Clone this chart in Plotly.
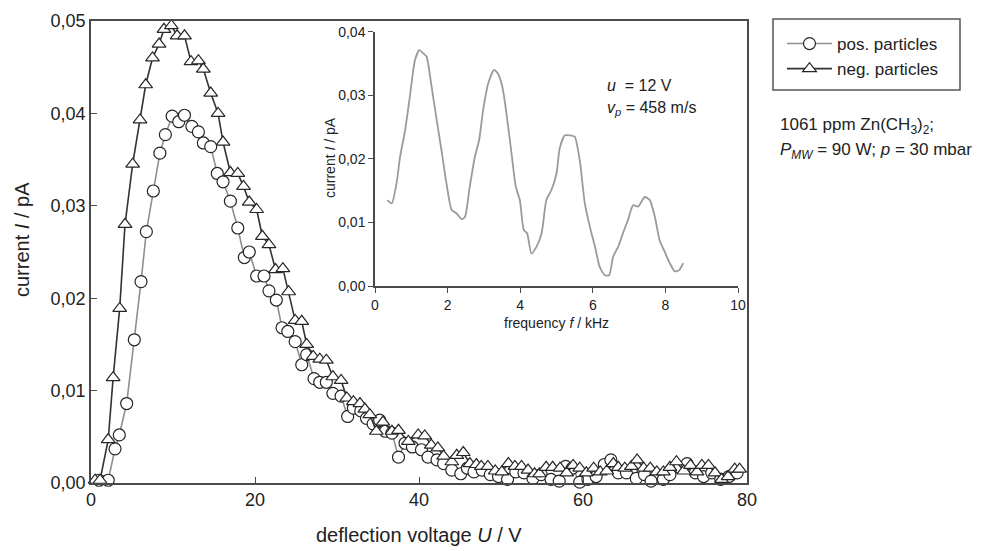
import plotly.graph_objects as go

# ---------------- data ----------------
pos_U = [0.98, 2.1, 2.93, 3.45, 4.35, 5.28, 6.1, 6.75, 7.6, 8.4, 9.07, 9.9, 10.7, 11.4, 12.3, 13.1,
         13.7, 14.6, 15.4, 16.1, 17.0, 17.9, 18.7, 19.3, 20.2, 21.1, 21.7, 22.6, 23.3, 24.0, 24.9,
         25.7, 26.3, 27.2, 27.9, 28.7, 29.5, 30.5, 31.3, 32.0, 32.9, 33.6, 34.4, 35.2, 35.9, 36.7,
         37.5, 38.3, 39.2, 40.3, 41.1, 42.2, 43.0, 44.0, 45.1, 45.9, 46.7, 47.7, 48.7, 49.7, 50.8,
         51.8, 52.8, 53.9, 54.9, 56.1, 57.1, 57.9, 58.7, 59.6, 60.6, 61.6, 62.6, 63.4, 64.3, 65.3,
         66.5, 67.5, 68.3, 69.8, 70.6, 71.8, 72.7, 73.7, 74.7, 75.7, 76.8, 77.8, 78.8]
pos_I = [0.0003, 0.0003, 0.0037, 0.0052, 0.0086, 0.0155, 0.0218, 0.0272, 0.0316, 0.0357, 0.0377,
         0.0397, 0.0391, 0.0398, 0.0386, 0.0380, 0.0368, 0.0364, 0.0335, 0.0326, 0.0305, 0.0276,
         0.0244, 0.0250, 0.0224, 0.0224, 0.0208, 0.0198, 0.0168, 0.0164, 0.0153, 0.0128, 0.0139,
         0.0113, 0.0109, 0.0109, 0.0097, 0.0094, 0.0072, 0.0081, 0.0078, 0.0070, 0.0064, 0.0068,
         0.0056, 0.0054, 0.0028, 0.0043, 0.0039, 0.0036, 0.0028, 0.0025, 0.0021, 0.0014, 0.0010,
         0.0016, 0.0012, 0.0014, 0.0009, 0.0007, 0.0004, 0.0012, 0.0011, 0.0005, 0.0009, 0.0004,
         0.0002, 0.0018, 0.0016, 0.0001, 0.0004, 0.0007, 0.0020, 0.0025, 0.0011, 0.0011, 0.0005,
         0.0009, 0.0002, 0.0004, 0.0009, 0.0017, 0.0021, 0.0011, 0.0007, 0.0011, 0.0004, 0.0007,
         0.0011]

neg_U = [0.5, 1.1, 2.1, 2.7, 3.5, 4.15, 5.08, 5.98, 6.67, 7.5, 8.3, 8.9, 9.8, 10.5, 11.4, 12.2,
         13.1, 13.7, 14.6, 15.5, 16.1, 17.0, 17.9, 18.6, 19.3, 20.2, 20.9, 21.7, 22.5, 23.4, 24.1,
         24.9, 25.7, 26.3, 27.1, 27.9, 28.7, 29.5, 30.5, 31.2, 32.0, 32.8, 33.4, 34.0, 34.8, 35.6,
         36.7, 37.5, 38.7, 39.9, 40.7, 41.5, 42.3, 43.0, 44.0, 44.6, 45.4, 46.2, 47.0, 47.6, 48.4,
         49.3, 50.1, 50.9, 51.7, 52.5, 53.3, 54.1, 54.7, 55.5, 56.3, 57.2, 58.0, 58.8, 59.6, 60.4,
         61.3, 62.1, 62.9, 63.7, 64.3, 65.1, 65.9, 66.6, 67.4, 68.2, 69.0, 69.8, 70.6, 71.4, 72.3,
         73.1, 73.9, 74.5, 75.3, 76.1, 76.9, 77.7, 78.5, 79.1]
neg_I = [0.0003, 0.0003, 0.0047, 0.0114, 0.0189, 0.0280, 0.0345, 0.0393, 0.0431, 0.0460, 0.0475,
         0.0491, 0.0495, 0.0484, 0.0484, 0.0456, 0.0457, 0.0448, 0.0422, 0.0400, 0.0369, 0.0336,
         0.0335, 0.0321, 0.0304, 0.0296, 0.0267, 0.0258, 0.0231, 0.0232, 0.0207, 0.0176, 0.0175,
         0.0150, 0.0137, 0.0134, 0.0133, 0.0115, 0.0111, 0.0092, 0.0088, 0.0086, 0.0080, 0.0074,
         0.0056, 0.0066, 0.0056, 0.0057, 0.0045, 0.0052, 0.0051, 0.0041, 0.0038, 0.0029, 0.0023,
         0.0030, 0.0033, 0.0021, 0.0020, 0.0018, 0.0018, 0.0013, 0.0012, 0.0021, 0.0018, 0.0018,
         0.0014, 0.0010, 0.0010, 0.0017, 0.0017, 0.0016, 0.0011, 0.0019, 0.0016, 0.0011, 0.0016,
         0.0012, 0.0013, 0.0021, 0.0017, 0.0016, 0.0018, 0.0025, 0.0016, 0.0016, 0.0012, 0.0012,
         0.0017, 0.0023, 0.0013, 0.0019, 0.0012, 0.0019, 0.0019, 0.0011, 0.0004, 0.0007, 0.0015,
         0.0015]

inset_f = [0.34, 0.46, 0.6, 0.69, 0.83, 0.96, 1.1, 1.22, 1.33, 1.42, 1.56, 1.7, 1.83, 1.97, 2.11,
           2.25, 2.39, 2.48, 2.61, 2.75, 2.87, 2.98, 3.12, 3.28, 3.39, 3.51, 3.62, 3.76, 3.88, 3.99,
           4.1, 4.19, 4.31, 4.45, 4.59, 4.72, 4.86, 5.0, 5.09, 5.23, 5.37, 5.5, 5.64, 5.78, 5.92,
           6.06, 6.19, 6.33, 6.45, 6.56, 6.7, 6.83, 6.97, 7.11, 7.25, 7.43, 7.57, 7.71, 7.84, 7.98,
           8.12, 8.26, 8.38, 8.49]
inset_I = [0.0135, 0.0130, 0.0164, 0.0203, 0.0245, 0.0298, 0.0355, 0.0371, 0.0366, 0.0361, 0.0313,
           0.0261, 0.0214, 0.0161, 0.0120, 0.0114, 0.0105, 0.0109, 0.0156, 0.0203, 0.0230, 0.0277,
           0.0319, 0.0340, 0.0334, 0.0313, 0.0272, 0.0209, 0.0156, 0.0135, 0.0088, 0.0083, 0.0051,
           0.0062, 0.0083, 0.0135, 0.0151, 0.0177, 0.0217, 0.0237, 0.0237, 0.0235, 0.0198, 0.0130,
           0.0093, 0.0062, 0.0030, 0.0017, 0.0017, 0.0046, 0.0062, 0.0083, 0.0104, 0.0127, 0.0125,
           0.0140, 0.0135, 0.0109, 0.0072, 0.0054, 0.0036, 0.0023, 0.0025, 0.0036]

main_xticks = [0, 20, 40, 60, 80]
main_yticks = [0.0, 0.01, 0.02, 0.03, 0.04, 0.05]
inset_xticks = [0, 2, 4, 6, 8, 10]
inset_yticks = [0.0, 0.01, 0.02, 0.03, 0.04]

# ---------------- figure ----------------
W, H = 982, 551
FONT = "Liberation Sans, Arial, sans-serif"
AX = "#4a4a4a"

def px_x(p):
    return p / W

def px_y(p):
    return 1 - p / H

fig = go.Figure()

fig.add_trace(go.Scatter(
    x=pos_U, y=pos_I, mode="lines+markers", name="pos. particles", legendgroup="a",
    line=dict(color="#8f8f8f", width=1.6),
    marker=dict(symbol="circle", size=12, color="white", line=dict(color="#262626", width=1.2)),
    cliponaxis=False, xaxis="x", yaxis="y"))
fig.add_trace(go.Scatter(
    x=neg_U, y=neg_I, mode="lines+markers", name="neg. particles", legendgroup="b",
    line=dict(color="#333333", width=1.6),
    marker=dict(symbol="triangle-up", size=12, color="white", line=dict(color="#262626", width=1.2)),
    cliponaxis=False, xaxis="x", yaxis="y"))
fig.add_trace(go.Scatter(
    x=inset_f, y=inset_I, mode="lines", showlegend=False,
    line=dict(color="#9a9a9a", width=1.8, shape="spline", smoothing=0.6),
    xaxis="x2", yaxis="y2"))

common = dict(showgrid=False, zeroline=False, automargin=False, tickcolor=AX,
              showline=True, linecolor=AX, linewidth=1.5)

fig.update_layout(
    width=W, height=H, margin=dict(l=0, r=0, t=0, b=0, autoexpand=False),
    paper_bgcolor="white", plot_bgcolor="rgba(0,0,0,0)",
    separators=", ",
    font=dict(family=FONT, color="#222222"),
    showlegend=True,
    legend=dict(x=px_x(782), y=px_y(26), xanchor="left", yanchor="top",
                font=dict(size=17, family=FONT, color="#222"),
                bgcolor="rgba(0,0,0,0)", borderwidth=0, tracegroupgap=0,
                itemwidth=45),
    xaxis=dict(domain=[px_x(91), px_x(747)], range=[0, 80], tickvals=main_xticks,
               ticks="inside", ticklen=6, mirror=True, tickfont=dict(size=18),
               anchor="y", **common),
    yaxis=dict(domain=[px_y(483), px_y(21)], range=[0, 0.05], tickvals=main_yticks,
               tickformat=".2f", ticks="inside", ticklen=6, mirror=True,
               tickfont=dict(size=18), anchor="x", **common),
    xaxis2=dict(domain=[px_x(375), px_x(738)], range=[0, 10], tickvals=inset_xticks,
                ticks="outside", ticklen=5, tickfont=dict(size=14), anchor="y2", **common),
    yaxis2=dict(domain=[px_y(286), px_y(31.7)], range=[0, 0.04], tickvals=inset_yticks,
                tickformat=".2f", ticks="outside", ticklen=5, tickfont=dict(size=14),
                anchor="x2", **common),
)

# legend frame
fig.add_shape(type="rect", xref="paper", yref="paper",
              x0=px_x(773), x1=px_x(960), y0=px_y(90), y1=px_y(19),
              line=dict(color="#555555", width=1.5))

ann = [
    dict(text="deflection voltage <i>U</i> / V", x=px_x(419), y=px_y(535), size=20, angle=0),
    dict(text="current <i>I</i> / pA", x=px_x(22), y=px_y(240), size=20, angle=-90),
    dict(text="frequency <i>f</i> / kHz", x=px_x(556), y=px_y(323), size=14, angle=0),
    dict(text="current <i>I</i> / pA", x=px_x(330), y=px_y(158), size=14, angle=-90),
]
for a in ann:
    fig.add_annotation(text=a["text"], x=a["x"], y=a["y"], xref="paper", yref="paper",
                       showarrow=False, textangle=a["angle"], font=dict(size=a["size"], family=FONT),
                       xanchor="center", yanchor="middle")

left_ann = [
    ("<i>u</i>  = 12 V", 605, 85, 16),
    ("<i>v<sub>p</sub></i> = 458 m/s", 605, 108, 16),
    ("1061 ppm Zn(CH<sub>3</sub>)<sub>2</sub>;", 778, 126, 17),
    ("<i>P<sub>MW</sub></i> = 90 W; <i>p</i> = 30 mbar", 778, 151, 17),
]
for t, x, y, s in left_ann:
    fig.add_annotation(text=t, x=px_x(x), y=px_y(y), xref="paper", yref="paper",
                       showarrow=False, font=dict(size=s, family=FONT),
                       xanchor="left", yanchor="middle")

fig.write_html("out.html")
